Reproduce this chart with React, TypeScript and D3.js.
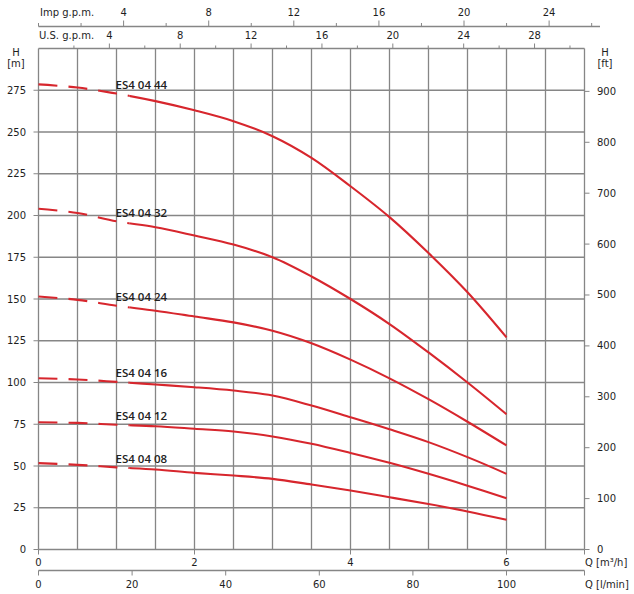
import React from 'react';
import * as d3 from 'd3';

// flow points, m3/h
const flow = [0, 0.5, 1, 1.5, 2, 2.5, 3, 3.5, 4, 4.5, 5, 5.5, 6];

// head in metres for every pump model
const head44 = [278.5, 276.6, 273, 268.5, 263, 256.5, 247.5, 234.5, 217.5, 199, 177.5, 154, 127];
const head32 = [204, 201.5, 196.5, 193, 188, 182.6, 175, 163.5, 150, 135, 118, 100, 81];
const head24 = [151.5, 149.5, 146, 143, 139.5, 136, 131, 123.5, 113.7, 102.5, 90, 76.5, 62.3];
const head16 = [102.5, 101.8, 100.4, 98.8, 97.2, 95.2, 92.2, 86.2, 79.2, 72, 64.3, 55.3, 45.3];
const head12 = [76.2, 75.8, 74.7, 73.8, 72.3, 70.7, 67.7, 63.3, 57.8, 51.9, 45.3, 38.2, 30.7];
const head08 = [51.7, 50.7, 49.2, 47.9, 45.9, 44.3, 42.3, 38.9, 35.3, 31.3, 27.2, 22.8, 17.8];

const models = ['ES4 04 44', 'ES4 04 32', 'ES4 04 24', 'ES4 04 16', 'ES4 04 12', 'ES4 04 08'];
const heads = [head44, head32, head24, head16, head12, head08];

// tick labels
const hTicks = [0, 25, 50, 75, 100, 125, 150, 175, 200, 225, 250, 275];
const ftTicks = [0, 100, 200, 300, 400, 500, 600, 700, 800, 900];
const m3hTicks = [0, 2, 4, 6];
const lminTicks = [0, 20, 40, 60, 80, 100];
const impLabels = [4, 8, 12, 16, 20, 24];
const usLabels = [4, 8, 12, 16, 20, 24, 28];

const IMP = 0.272765; // m3/h per Imp gpm
const USG = 0.227125; // m3/h per US gpm
const dashEnd = 1.17; // flow where curves become solid

const grid = '#868686';
const red = '#d7262d';
const ink = '#1e1e1e';
const font = '"DejaVu Sans", Verdana, sans-serif';

export default function App() {
  const x = d3.scaleLinear().domain([0, 7]).range([38.5, 584.5]);
  const y = d3.scaleLinear().domain([0, 300]).range([549.5, 48.5]);
  const yFt = d3.scaleLinear().domain([0, 300 / 0.3048]).range([549.5, 48.5]);
  const xImp = d3.scaleLinear().domain([0, 7 / IMP]).range([38.5, 584.5]);
  const xUs = d3.scaleLinear().domain([0, 7 / USG]).range([38.5, 584.5]);
  const xL = d3.scaleLinear().domain([0, 7000 / 60]).range([38.5, 584.5]);

  const line = d3
    .line<number>()
    .x((d, i) => x(flow[i]))
    .y((d) => y(d))
    .curve(d3.curveCatmullRom.alpha(0.5));

  const vGrid = d3.range(0, 7.01, 0.5);
  const hGrid = d3.range(0, 301, 25);
  const impTicks = d3.range(0, 27, 2);
  const usTicks = d3.range(2, 31, 2);
  const split = x(dashEnd);

  return (
    <svg
      width={634}
      height={594}
      style={{ position: 'absolute', left: 0, top: 0, background: '#fff' }}
      fontFamily={font}
      fontSize={10}
      fill={ink}
    >
      <defs>
        <clipPath id="dashPart">
          <rect x={0} y={0} width={split} height={594} />
        </clipPath>
        <clipPath id="solidPart">
          <rect x={split} y={0} width={634 - split} height={594} />
        </clipPath>
      </defs>

      {/* grid */}
      <g stroke={grid} strokeWidth={1.3}>
        {vGrid.map((q) => (
          <line key={'v' + q} x1={x(q)} x2={x(q)} y1={y(0)} y2={y(300)} />
        ))}
        {hGrid.map((h) => (
          <line key={'h' + h} x1={x(0)} x2={x(7)} y1={y(h)} y2={y(h)} />
        ))}
      </g>

      {/* left axis H [m] */}
      <g>
        {hTicks.map((h) => (
          <g key={'lt' + h}>
            <line x1={x(0) - 5} x2={x(0)} y1={y(h)} y2={y(h)} stroke={grid} />
            <text x={26} y={y(h)} dy="0.35em" textAnchor="end">{h}</text>
          </g>
        ))}
        <text x={16} y={56} textAnchor="middle">H</text>
        <text x={16} y={67} textAnchor="middle">[m]</text>
      </g>

      {/* right axis H [ft] */}
      <g>
        {ftTicks.map((f) => (
          <g key={'rt' + f}>
            <line x1={x(7)} x2={x(7) + 5} y1={yFt(f)} y2={yFt(f)} stroke={grid} />
            <text x={597} y={yFt(f)} dy="0.35em">{f}</text>
          </g>
        ))}
        <text x={605} y={56} textAnchor="middle">H</text>
        <text x={605} y={67} textAnchor="middle">[ft]</text>
      </g>

      {/* bottom axis m3/h */}
      <g>
        {m3hTicks.map((q) => (
          <g key={'bq' + q}>
            <line x1={x(q)} x2={x(q)} y1={y(0)} y2={y(0) + 5} stroke={grid} />
            <text x={x(q)} y={566} textAnchor="middle">{q}</text>
          </g>
        ))}
        <line x1={x(7)} x2={x(7)} y1={y(0)} y2={y(0) + 5} stroke={grid} />
        <text x={585} y={566}>Q [m³/h]</text>
      </g>

      {/* bottom axis l/min */}
      <g>
        <line x1={xL(0)} x2={xL(7000 / 60)} y1={570.5} y2={570.5} stroke={grid} strokeWidth={1.3} />
        {lminTicks.map((v) => (
          <g key={'bl' + v}>
            <line x1={xL(v)} x2={xL(v)} y1={570.5} y2={575.5} stroke={grid} />
            <text x={xL(v)} y={587.5} textAnchor="middle">{v}</text>
          </g>
        ))}
        <line x1={xL(7000 / 60)} x2={xL(7000 / 60)} y1={570.5} y2={575.5} stroke={grid} />
        <text x={585} y={587.5}>Q [l/min]</text>
      </g>

      {/* top axis Imp g.p.m. */}
      <g>
        <line x1={xImp(0)} x2={600} y1={26.5} y2={26.5} stroke={grid} strokeWidth={1.3} />
        {impTicks.map((g) => (
          <line
            key={'it' + g}
            x1={xImp(g)}
            x2={xImp(g)}
            y1={26.5}
            y2={g % 4 === 0 && g > 0 ? 20.5 : 23}
            stroke={grid}
          />
        ))}
        {impLabels.map((g) => (
          <text key={'il' + g} x={xImp(g)} y={15.5} textAnchor="middle">{g}</text>
        ))}
        <text x={40} y={15.5}>Imp g.p.m.</text>
      </g>

      {/* top axis U.S. g.p.m. */}
      <g>
        {usTicks.map((g) => (
          <line
            key={'ut' + g}
            x1={xUs(g)}
            x2={xUs(g)}
            y1={y(300)}
            y2={g % 4 === 0 ? y(300) - 5 : y(300) - 3}
            stroke={grid}
          />
        ))}
        {usLabels.map((g) => (
          <text key={'ul' + g} x={xUs(g)} y={38.5} textAnchor="middle">{g}</text>
        ))}
        <text x={39} y={38.5}>U.S. g.p.m.</text>
      </g>

      {/* pump curves */}
      <g fill="none" stroke={red} strokeWidth={2.1}>
        {heads.map((hs, i) => (
          <g key={'c' + i}>
            <path d={line(hs) || ''} clipPath="url(#dashPart)" strokeDasharray="19 11" />
            <path d={line(hs) || ''} clipPath="url(#solidPart)" />
          </g>
        ))}
      </g>

      {/* curve labels */}
      <g fontFamily='"Open Sans", sans-serif' fontSize={11.5} fontWeight={600} fill="#222">
        {heads.map((hs, i) => (
          <text key={'n' + i} x={x(1) - 1} y={y(hs[2]) - 4.5}>{models[i]}</text>
        ))}
      </g>
    </svg>
  );
}
